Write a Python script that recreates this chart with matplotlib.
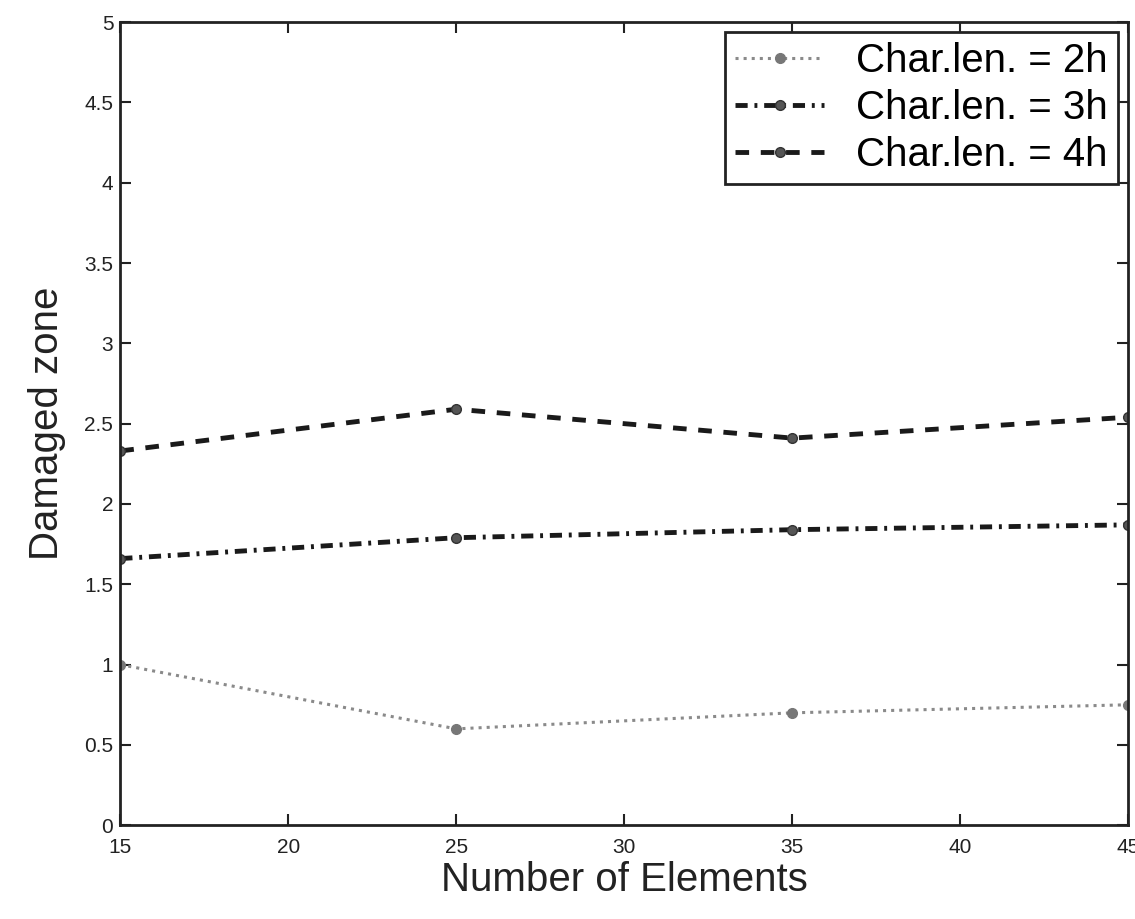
# coding:utf-8
'''
   function: damaged zone versus number of elements, three characteristic lengths
'''
import matplotlib
matplotlib.use('Agg')
import matplotlib.pyplot as plt

plt.rcParams['font.family'] = ['Liberation Sans', 'DejaVu Sans']

# data
elements = [15, 25, 35, 45]
zone_2h = [1.0, 0.6, 0.7, 0.75]
zone_3h = [1.66, 1.79, 1.84, 1.87]
zone_4h = [2.33, 2.59, 2.41, 2.54]
labels = ['Char.len. = 2h', 'Char.len. = 3h', 'Char.len. = 4h']

fig = plt.figure(figsize=(11.35, 9.19), dpi=100)
ax = fig.add_axes([0.106, 0.102, 0.888, 0.874])

ax.plot(elements, zone_2h, linestyle=':', color='#8a8a8a', linewidth=2.2,
        marker='o', markersize=7, markerfacecolor='#777777', markeredgecolor='#777777',
        label=labels[0])
ax.plot(elements, zone_3h, linestyle=(0, (2.5, 1.4, 0.6, 1.4)), color='#1a1a1a', linewidth=3.5,
        marker='o', markersize=7, markerfacecolor='#555555', markeredgecolor='#333333',
        label=labels[1])
ax.plot(elements, zone_4h, linestyle=(0, (2.8, 2.4)), color='#1a1a1a', linewidth=3.5,
        marker='o', markersize=7, markerfacecolor='#555555', markeredgecolor='#333333',
        label=labels[2])

ax.set_xlim(15, 45)
ax.set_ylim(0, 5)
ax.set_xticks([15, 20, 25, 30, 35, 40, 45])
ax.set_yticks([0, 0.5, 1, 1.5, 2, 2.5, 3, 3.5, 4, 4.5, 5])
ax.set_yticklabels(['0', '0.5', '1', '1.5', '2', '2.5', '3', '3.5', '4', '4.5', '5'])
ax.tick_params(direction='in', length=8, width=1.5, labelsize=15,
               top=True, right=True, colors='#222222')
ax.tick_params(axis='x', pad=9)
ax.tick_params(axis='y', pad=5)
for s in ax.spines.values():
    s.set_linewidth(2)
    s.set_color('#222222')

ax.set_xlabel('Number of Elements', fontsize=29, color='#222222', va='center')
ax.set_ylabel('Damaged zone', fontsize=29, color='#222222', va='center')
ax.xaxis.set_label_coords(0.5, -0.068)
ax.yaxis.set_label_coords(-0.073, 0.5)

leg = ax.legend(loc='upper right', fontsize=29, handlelength=2.2, handletextpad=0.8,
                borderpad=0.25, labelspacing=0.22, fancybox=False, framealpha=1,
                borderaxespad=0.25)
leg.get_frame().set_edgecolor('#222222')
leg.get_frame().set_linewidth(2)

fig.savefig('out.png', dpi=100)
